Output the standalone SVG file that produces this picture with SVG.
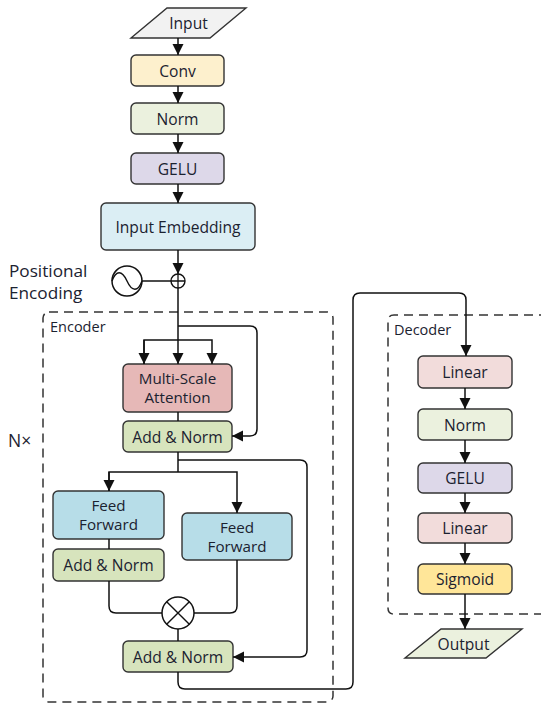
<svg xmlns="http://www.w3.org/2000/svg" width="541" height="706" viewBox="0 0 541 706">
<defs>
<marker id="arr" markerUnits="userSpaceOnUse" markerWidth="12" markerHeight="12" viewBox="0 0 12 12" refX="11" refY="6" orient="auto">
<path d="M0,0.5 L11,6 L0,11.5 Z" fill="#111"/>
</marker>
</defs>
<style>
.box{stroke:#333;stroke-width:1.4}
.t{font-family:"Open Sans","Noto Sans",sans-serif;font-size:15.6px;fill:#1b2230;text-anchor:middle;dominant-baseline:central}
.t2{font-family:"Open Sans","Noto Sans",sans-serif;font-size:15.2px;fill:#1b2230;text-anchor:middle;dominant-baseline:central}
.lbl{font-family:"Open Sans","Noto Sans",sans-serif;font-size:14.5px;fill:#1b2230}
.pe{font-family:"Open Sans","Noto Sans",sans-serif;font-size:17.2px;fill:#1b2230}
.c{fill:none;stroke:#111;stroke-width:1.5}
.dash{fill:none;stroke:#333;stroke-width:1.5;stroke-dasharray:9,6}
</style>
<rect width="541" height="706" fill="#fff"/>

<g id="encoder-frame">
<rect class="dash" x="43" y="312" width="290" height="390" rx="6"/>
<text class="lbl" x="50" y="332">Encoder</text>
</g>
<g id="decoder-frame">
<path class="dash" d="M548,315 H394 Q388,315 388,321 V608 Q388,614 394,614 H548"/>
<text class="lbl" x="394" y="335">Decoder</text>
</g>

<g id="input"><polygon class="box" points="167,8 246,8 210,38 131,38" fill="#f2f2f2"/><text class="t" x="188.5" y="23">Input</text></g>
<g id="conv"><rect class="box" x="131" y="55" width="93" height="31" rx="5" fill="#fdf0cd"/><text class="t" x="177.5" y="70.5">Conv</text></g>
<g id="norm1"><rect class="box" x="131" y="103" width="93" height="31" rx="5" fill="#ebf1de"/><text class="t" x="177.5" y="118.5">Norm</text></g>
<g id="gelu1"><rect class="box" x="131" y="153" width="93" height="31" rx="5" fill="#ddd8e9"/><text class="t" x="177.5" y="168.5">GELU</text></g>
<g id="input-embedding"><rect class="box" x="101" y="203" width="154" height="47" rx="5" fill="#dbeef4"/><text class="t" x="178" y="226.5">Input Embedding</text></g>

<g id="positional-encoding">
<text class="pe" x="9" y="277">Positional</text>
<text class="pe" x="9" y="298.6">Encoding</text>
<circle cx="127" cy="281" r="15" fill="#fff" stroke="#111" stroke-width="1.5"/>
<path d="M112,281 C116,270 122,270 127,281 C132,292 138,292 142,281" fill="none" stroke="#111" stroke-width="1.4"/>
</g>
<g id="add-op">
<circle cx="178" cy="281" r="7" fill="#fff" stroke="#111" stroke-width="1.4"/>
<path d="M171,281 H185 M178,274 V288" stroke="#111" stroke-width="1.3"/>
</g>

<g id="multi-scale-attention"><rect class="box" x="123" y="364" width="109" height="48" rx="5" fill="#e6b8b7"/><text class="t2" x="177.5" y="378.2">Multi-Scale</text><text class="t2" x="177.5" y="397.3">Attention</text></g>
<g id="add-norm1"><rect class="box" x="123" y="421" width="109" height="31" rx="5" fill="#d7e4bd"/><text class="t" x="177.5" y="436.5">Add &amp; Norm</text></g>
<g id="feed-forward-left"><rect class="box" x="53" y="491" width="111" height="48" rx="5" fill="#b7dde8"/><text class="t2" x="108.5" y="505.2">Feed</text><text class="t2" x="108.5" y="524.3">Forward</text></g>
<g id="add-norm-left"><rect class="box" x="53" y="549" width="111" height="32" rx="5" fill="#d7e4bd"/><text class="t" x="108.5" y="565">Add &amp; Norm</text></g>
<g id="feed-forward-right"><rect class="box" x="182" y="513" width="110" height="47" rx="5" fill="#b7dde8"/><text class="t2" x="237" y="527">Feed</text><text class="t2" x="237" y="546.1">Forward</text></g>
<g id="multiply-op">
<circle cx="178" cy="613" r="16" fill="#fff" stroke="#111" stroke-width="1.5"/>
<path d="M166.7,601.7 L189.3,624.3 M189.3,601.7 L166.7,624.3" stroke="#111" stroke-width="1.4"/>
</g>
<g id="add-norm2"><rect class="box" x="123" y="641" width="110" height="31" rx="5" fill="#d7e4bd"/><text class="t" x="178" y="656.5">Add &amp; Norm</text></g>

<g id="nx"><text x="8" y="447" font-family="'Open Sans','Noto Sans',sans-serif" font-size="17.5" fill="#1b2230">N×</text></g>

<g id="linear1"><rect class="box" x="418" y="356" width="94" height="32" rx="5" fill="#f2dcdb"/><text class="t" x="465" y="372">Linear</text></g>
<g id="norm2"><rect class="box" x="418" y="409" width="94" height="31" rx="5" fill="#ebf1de"/><text class="t" x="465" y="424.5">Norm</text></g>
<g id="gelu2"><rect class="box" x="418" y="463" width="94" height="30" rx="5" fill="#ddd8e9"/><text class="t" x="465" y="478">GELU</text></g>
<g id="linear2"><rect class="box" x="418" y="513" width="94" height="30" rx="5" fill="#f2dcdb"/><text class="t" x="465" y="528">Linear</text></g>
<g id="sigmoid"><rect class="box" x="418" y="564" width="94" height="30" rx="5" fill="#ffe699"/><text class="t" x="465" y="579">Sigmoid</text></g>
<g id="output"><polygon class="box" points="441,629 522,629 486,658 405,658" fill="#ebf1de"/><text class="t" x="463.5" y="643.5">Output</text></g>

<g id="connectors">
<path class="c" d="M178,38 V55" marker-end="url(#arr)"/>
<path class="c" d="M178,86 V103" marker-end="url(#arr)"/>
<path class="c" d="M178,134 V153" marker-end="url(#arr)"/>
<path class="c" d="M178,184 V203" marker-end="url(#arr)"/>
<path class="c" d="M178,250 V274" marker-end="url(#arr)"/>
<path class="c" d="M142,281 H171"/>
<path class="c" d="M178,288 V364" marker-end="url(#arr)"/>
<path class="c" d="M144,364 V340 H212 V364" marker-end="url(#arr)"/>
<path class="c" d="M144,340 V364" marker-end="url(#arr)"/>
<path class="c" d="M178,326 H250 Q257,326 257,333 V429 Q257,436 250,436 H232" marker-end="url(#arr)"/>
<path class="c" d="M178,412 V421"/>
<path class="c" d="M178,452 V472"/>
<path class="c" d="M109,491 V472 H237 V513" marker-end="url(#arr)"/>
<path class="c" d="M109,472 V491" marker-end="url(#arr)"/>
<path class="c" d="M178,460 H300 Q307,460 307,467 V650 Q307,657 300,657 H233" marker-end="url(#arr)"/>
<path class="c" d="M109,539 V549"/>
<path class="c" d="M109,581 V606 Q109,613 116,613 H162"/>
<path class="c" d="M237,560 V606 Q237,613 230,613 H194"/>
<path class="c" d="M178,629 V641"/>
<path class="c" d="M178,672 V682 Q178,689 185,689 H346 Q353,689 353,682 V300 Q353,293 360,293 H459 Q466,293 466,300 V356" marker-end="url(#arr)"/>
<path class="c" d="M465,388 V409" marker-end="url(#arr)"/>
<path class="c" d="M465,440 V463" marker-end="url(#arr)"/>
<path class="c" d="M465,493 V513" marker-end="url(#arr)"/>
<path class="c" d="M465,543 V564" marker-end="url(#arr)"/>
<path class="c" d="M465,594 V629" marker-end="url(#arr)"/>
</g>
</svg>
